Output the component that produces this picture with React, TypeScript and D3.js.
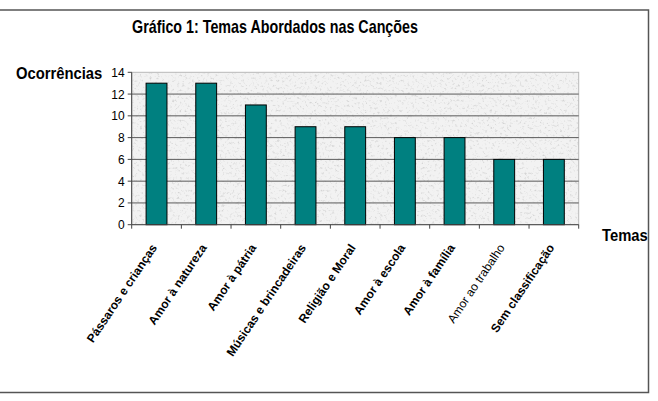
import React from "react";
import * as d3 from "d3";

const categories = [
  "Pássaros e crianças",
  "Amor à natureza",
  "Amor à pátria",
  "Músicas e brincadeiras",
  "Religião e Moral",
  "Amor à escola",
  "Amor à família",
  "Amor ao trabalho",
  "Sem classificação",
];
const values = [13, 13, 11, 9, 9, 8, 8, 6, 6];
const boldLabel = [true, true, true, true, true, true, true, false, true];
const yTicks = [0, 2, 4, 6, 8, 10, 12, 14];
const title = "Gráfico 1: Temas Abordados nas Canções";
const yTitle = "Ocorrências";
const xTitle = "Temas";

const W = 658;
const H = 401;
const plot = { left: 131.7, right: 578.7, top: 72.3, bottom: 224.7 };
const FONT = "'Liberation Sans', Arial, sans-serif";

function SText(props: {
  x: number;
  y: number;
  size: number;
  sy?: number;
  bold?: boolean;
  anchor?: string;
  children: React.ReactNode;
}) {
  return (
    <text
      transform={`translate(${props.x} ${props.y}) scale(1 ${props.sy ?? 1.13})`}
      textAnchor={props.anchor || "start"}
      fontFamily={FONT}
      fontWeight={props.bold ? "bold" : "normal"}
      fontSize={props.size}
      fill="#000"
    >
      {props.children}
    </text>
  );
}

export default function App() {
  const x = d3
    .scaleBand<string>()
    .domain(categories)
    .range([plot.left, plot.right])
    .paddingInner(0.58)
    .paddingOuter(0.29);
  const band = d3.scaleBand<string>().domain(categories).range([plot.left, plot.right]);
  const y = d3.scaleLinear().domain([0, 14]).range([plot.bottom, plot.top]);
  const bounds = categories.map((c) => band(c)!).concat([plot.right]);

  return (
    <svg
      width={W}
      height={H}
      style={{ position: "absolute", left: 0, top: 0, display: "block" }}
    >
      <defs>
        <filter id="granite" x="0" y="0" width="100%" height="100%">
          <feTurbulence type="fractalNoise" baseFrequency="0.4" numOctaves="3" seed="7" result="n" />
          <feColorMatrix
            in="n"
            type="matrix"
            values="0 0 0 0 0.66  0 0 0 0 0.66  0 0 0 0 0.66  -3.2 0 0 0 1.45"
            result="spots"
          />
          <feFlood floodColor="#f2f2f2" result="bg" />
          <feComposite in="spots" in2="bg" operator="over" result="c" />
          <feComposite in="c" in2="SourceGraphic" operator="in" />
        </filter>
      </defs>
      <rect x={0} y={0} width={W} height={H} fill="#ffffff" />
      <rect x={-2} y={10} width={650.5} height={382.5} fill="#ffffff" stroke="#555" strokeWidth={1.5} />

      <SText x={275} y={33.3} size={14.3} sy={1.23} bold anchor="middle">
        {title}
      </SText>

      {/* plot background */}
      <rect
        x={plot.left}
        y={plot.top}
        width={plot.right - plot.left}
        height={plot.bottom - plot.top}
        fill="#ffffff"
        filter="url(#granite)"
      />
      <rect
        x={plot.left}
        y={plot.top}
        width={plot.right - plot.left}
        height={plot.bottom - plot.top}
        fill="none"
        stroke="#b8b8b8"
        strokeWidth={1}
      />

      {/* gridlines */}
      {yTicks
        .filter((t) => t > 0 && t < 14)
        .map((t) => (
          <line key={t} x1={plot.left} x2={plot.right} y1={y(t)} y2={y(t)} stroke="#5a5a5a" strokeWidth={1} />
        ))}

      {/* bars */}
      {categories.map((c, i) => (
        <rect
          key={c}
          x={x(c)!}
          y={y(values[i])}
          width={x.bandwidth()}
          height={plot.bottom - y(values[i])}
          fill="#008080"
          stroke="#000"
          strokeWidth={1}
        />
      ))}

      {/* y axis */}
      <line x1={plot.left} x2={plot.left} y1={plot.top} y2={plot.bottom} stroke="#444" strokeWidth={1} />
      {yTicks.map((t) => (
        <g key={t}>
          <line x1={plot.left - 4} x2={plot.left} y1={y(t)} y2={y(t)} stroke="#444" strokeWidth={1} />
          <SText x={plot.left - 7} y={y(t) + 4.5} size={12} anchor="end">
            {t}
          </SText>
        </g>
      ))}

      {/* x axis */}
      <line x1={plot.left} x2={plot.right} y1={plot.bottom} y2={plot.bottom} stroke="#444" strokeWidth={1} />
      {bounds.map((b, i) => (
        <line key={i} x1={b} x2={b} y1={plot.bottom} y2={plot.bottom + 4} stroke="#444" strokeWidth={1} />
      ))}
      {categories.map((c, i) => {
        const cx = band(c)! + band.bandwidth() / 2 + 1;
        const cy = plot.bottom + 23;
        return (
          <text
            key={c}
            x={cx}
            y={cy}
            transform={`rotate(-56 ${cx} ${cy})`}
            textAnchor="end"
            fontFamily={FONT}
            fontWeight={boldLabel[i] ? "bold" : "normal"}
            fontSize={12}
            fill="#000"
          >
            {c}
          </text>
        );
      })}

      <SText x={16} y={78.5} size={14.8} bold>
        {yTitle}
      </SText>
      <SText x={602} y={241} size={14.8} bold>
        {xTitle}
      </SText>
    </svg>
  );
}
